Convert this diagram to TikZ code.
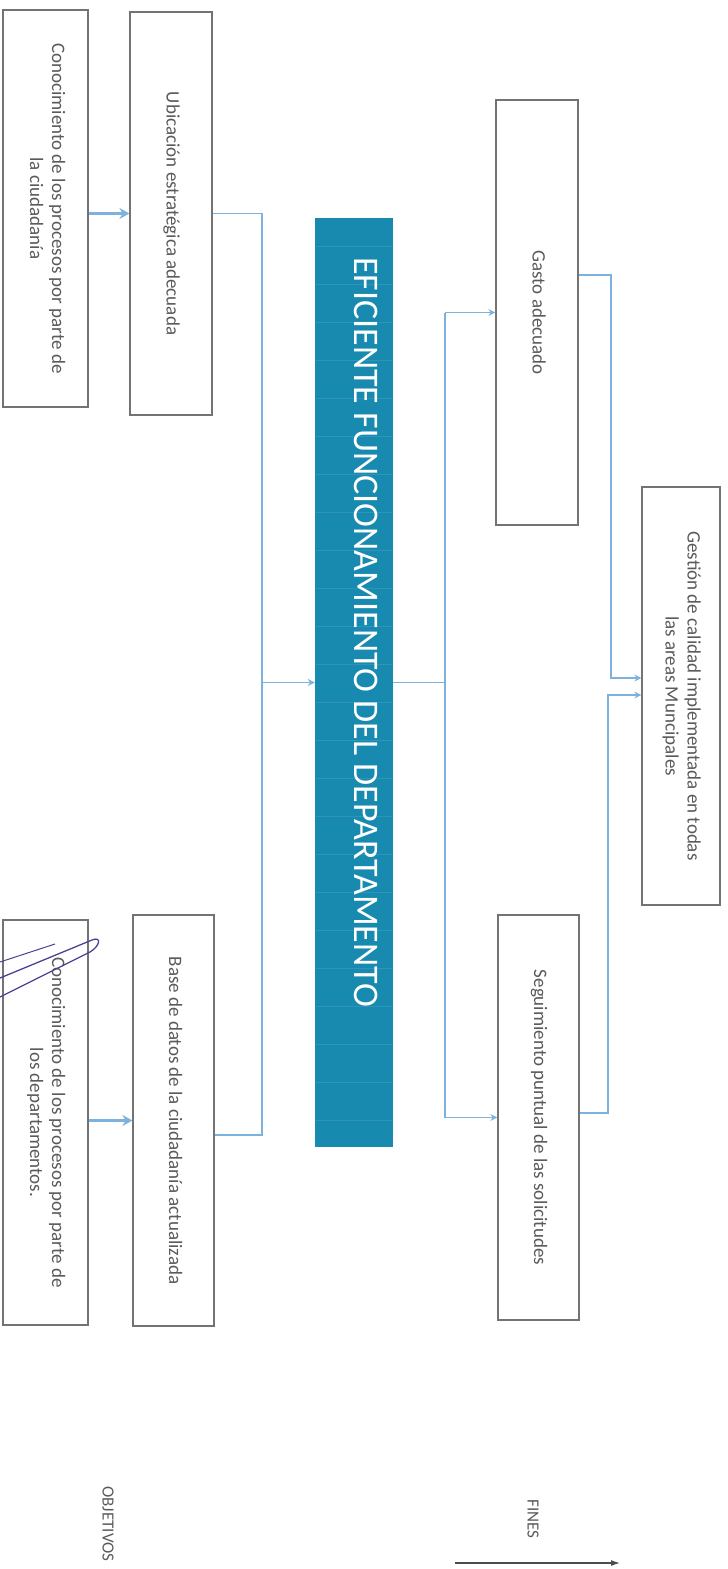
\documentclass[tikz,border=0pt]{standalone}
\usepackage{fontspec}
\setmainfont{Carlito}
\usetikzlibrary{arrows.meta}

\definecolor{boxgray}{RGB}{115,115,115}
\definecolor{txtgray}{RGB}{90,90,90}
\definecolor{linkblue}{RGB}{125,178,222}
\definecolor{coreblue}{RGB}{24,138,176}
\definecolor{penblue}{RGB}{75,65,150}

\newcommand{\vtxt}[1]{\rotatebox{-90}{\begin{tabular}{@{}c@{}}#1\end{tabular}}}

\begin{document}
\begin{tikzpicture}[x=1pt,y=-1pt,
	box/.style={draw=boxgray, line width=1.2pt, fill=white, inner sep=0pt,
		text=txtgray, font=\fontsize{19}{22}\selectfont},
	core/.style={fill=coreblue, inner sep=0pt},
	link/.style={draw=linkblue, line width=1.6pt},
	arr/.style={link, -{Stealth[length=7pt,width=7pt]}},
	thickarr/.style={draw=linkblue, line width=3pt, -{Stealth[length=10pt,width=11pt]}},
	tag/.style={text=txtgray, font=\fontsize{17}{20}\selectfont, rotate=-90, inner sep=0pt}
]

	\useasboundingbox (0,0) rectangle (728,1569);

	% medios
	\node[box, minimum width=85pt, minimum height=397pt] (conCiud) at (45.5,208.5)
		{\vtxt{Conocimiento de los procesos por parte de\\la ciudadanía}};
	\node[box, minimum width=82pt, minimum height=403pt] (ubic) at (171,213.5)
		{\vtxt{Ubicación estratégica adecuada}};
	\node[box, minimum width=85pt, minimum height=405pt] (conDep) at (45.5,1122.5)
		{\vtxt{Conocimiento de los procesos por parte de\\los departamentos.}};
	\node[box, minimum width=81pt, minimum height=411pt] (baseDat) at (173.5,1120.5)
		{\vtxt{Base de datos de la ciudadanía actualizada}};

	% objetivo central
	\node[core, minimum width=78pt, minimum height=929pt] (efic) at (354,682.5) {};
	\foreach \y in {246,284,...,1130}
		\draw[white, opacity=0.1, line width=1pt] (316,\y) -- (392,\y);
	\node[text=white, font=\fontsize{36}{40}\selectfont, rotate=-90, inner sep=0pt] (eficTxt) at (366,632)
		{EFICIENTE FUNCIONAMIENTO DEL DEPARTAMENTO};

	% fines
	\node[box, minimum width=82pt, minimum height=425pt] (gasto) at (537,312.5)
		{\vtxt{Gasto adecuado}};
	\node[box, minimum width=81pt, minimum height=405pt] (segui) at (538.5,1117.5)
		{\vtxt{Seguimiento puntual de las solicitudes}};
	\node[box, minimum width=78pt, minimum height=418pt] (gestion) at (681,696)
		{\vtxt{Gestión de calidad implementada en todas\\las areas Muncipales}};

	% conectores izquierda
	\coordinate (ltTop) at (262,213.5);
	\coordinate (ltBot) at (262,1135);
	\draw[thickarr] (conCiud.east |- ubic.west) -- (ubic.west);
	\draw[thickarr] (conDep.east |- baseDat.west) -- (baseDat.west);
	\draw[link] (ubic.east) -- (ltTop) -- (ltBot) -- (ltBot -| baseDat.east);
	\draw[arr] (ltTop |- efic.west) -- (efic.west);

	% conectores derecha
	\coordinate (rtTop) at (445,312.5);
	\coordinate (rtBot) at (445,1117.5);
	\draw[link] (efic.east) -- (rtTop |- efic.east);
	\draw[link] (rtTop) -- (rtBot);
	\draw[arr] (rtTop) -- (gasto.west);
	\draw[arr] (rtBot) -- (segui.west);

	\coordinate (gTop) at (611,275);
	\coordinate (gIn) at (611,678);
	\coordinate (sTop) at (608,1113);
	\coordinate (sIn) at (608,695);
	\draw[arr] (gasto.east |- gTop) -- (gTop) -- (gIn) -- (gIn -| gestion.west);
	\draw[arr] (segui.east |- sTop) -- (sTop) -- (sIn) -- (sIn -| gestion.west);

	% trazo a mano
	\draw[penblue, line width=1.3pt] (0,978) -- (92,940) .. controls (102,936) and (100,946) .. (90,952) -- (0,997);
	\draw[penblue, line width=1pt] (0,962) -- (55,944);

	% rotulos
	\node[tag, anchor=west] (objet) at (108,1486) {OBJETIVOS};
	\node[tag] (fines) at (533,1519) {FINES};
	\coordinate (finS) at (455,1563);
	\coordinate (finE) at (620,1563);
	\draw[black!70, line width=1.3pt, -{Latex[length=9pt,width=6pt]}] (finS) -- (finE);

\end{tikzpicture}
\end{document}
